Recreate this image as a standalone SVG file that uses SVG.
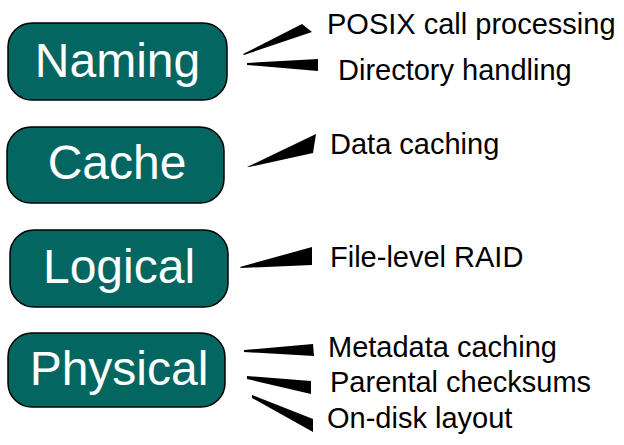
<svg xmlns="http://www.w3.org/2000/svg" width="624" height="445" viewBox="0 0 624 445">
  <style>
    .box { fill: #036660; stroke: #000; stroke-width: 1.5; }
    .layer { font-family: "Liberation Sans", Arial, sans-serif; font-size: 48px; fill: #fff; text-anchor: middle; }
    .label { font-family: "Liberation Sans", Arial, sans-serif; font-size: 29px; fill: #000; }
    .wedge { fill: #000; stroke: none; }
  </style>
  <rect width="624" height="445" fill="#fff"/>

  <!-- layer boxes -->
  <g id="naming">
    <rect class="box" x="8" y="23" width="219" height="77" rx="24" ry="24"/>
    <text class="layer" x="117.5" y="77">Naming</text>
  </g>
  <g id="cache">
    <rect class="box" x="7" y="127" width="217" height="76" rx="24" ry="24"/>
    <text class="layer" x="117" y="179">Cache</text>
  </g>
  <g id="logical">
    <rect class="box" x="10" y="230" width="218" height="77" rx="24" ry="24"/>
    <text class="layer" x="119" y="283">Logical</text>
  </g>
  <g id="physical">
    <rect class="box" x="8" y="333" width="217" height="74" rx="24" ry="24"/>
    <text class="layer" x="119" y="385">Physical</text>
  </g>

  <!-- tapered pointers from each layer to its duties -->
  <g id="connectors">
    <polygon class="wedge" points="243,54 302,24 312,32 244,55"/>
    <polygon class="wedge" points="247,63 318,59 318,71 247,65"/>
    <polygon class="wedge" points="247,167 316,134 313,153 249,167"/>
    <polygon class="wedge" points="240,267 312,247 312,265 241,268"/>
    <polygon class="wedge" points="244,350 313,344 314,356 244,352"/>
    <polygon class="wedge" points="247,376 311,381 311,394 247,379"/>
    <polygon class="wedge" points="252,395 313,419 313,432 252,398"/>
  </g>

  <!-- duty labels -->
  <g id="labels">
    <text class="label" x="327" y="34">POSIX call processing</text>
    <text class="label" x="338" y="80">Directory handling</text>
    <text class="label" x="330" y="154">Data caching</text>
    <text class="label" x="330" y="267">File-level RAID</text>
    <text class="label" x="328" y="357">Metadata caching</text>
    <text class="label" x="330" y="392">Parental checksums</text>
    <text class="label" x="327" y="428">On-disk layout</text>
  </g>
</svg>
